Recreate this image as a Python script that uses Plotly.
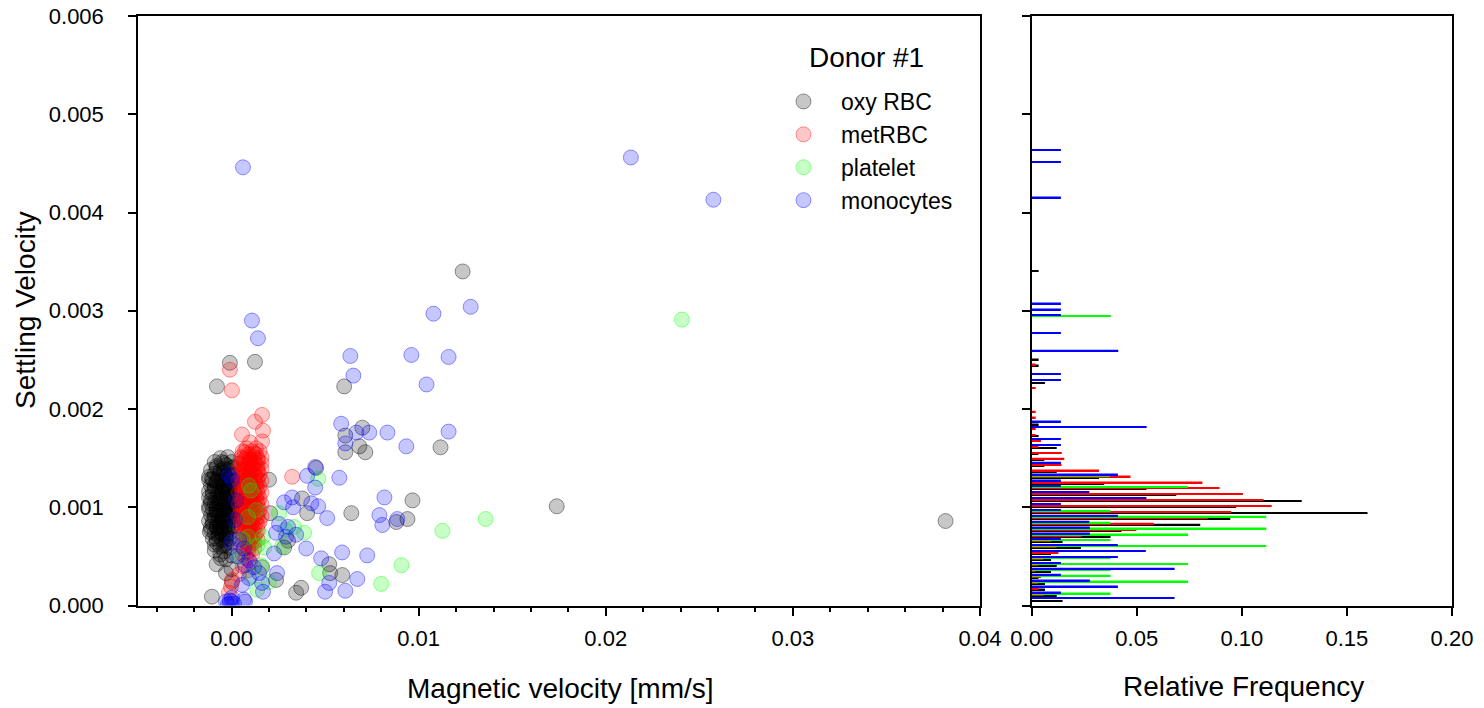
import plotly.graph_objects as go

FONT = "Liberation Sans, Arial, Helvetica, sans-serif"

# ---------------- scatter data (magnetic velocity [mm/s], settling velocity) -------------
oxy_rbc = [
    (0.03816, 0.00086), (0.01738, 0.00101), (0.01235, 0.00340), (0.01117, 0.00161),
    (0.00967, 0.00107), (0.00940, 0.00088), (0.00881, 0.00085), (0.00602, 0.00223),
    (0.00699, 0.00181), (0.00608, 0.00173), (0.00683, 0.00162), (0.00608, 0.00156),
    (0.00715, 0.00156), (0.00640, 0.00094), (0.00377, 0.00109), (0.00404, 0.00094),
    (0.00206, 0.00094), (0.00200, 0.00128), (0.00452, 0.00140), (0.00281, 0.00059),
    (0.00302, 0.00066), (0.00522, 0.00042), (0.00527, 0.00033), (0.00592, 0.00031),
    (0.00372, 0.00018), (0.00345, 0.00013), (0.00238, 0.00026), (0.00163, 0.00039),
    (-0.00009, 0.00247), (0.00125, 0.00248), (-0.00078, 0.00223), (-0.00105, 0.00009),
    (-0.00057, 0.00048), (-0.00030, 0.00033), (0.00002, 0.00024), (-0.00116, 0.00075),
    (-0.00078, 0.00080), (-0.00105, 0.00129), (-0.00051, 0.00146),
    (-0.0006, 0.00150), (-0.0002, 0.00151),
    (-0.0009, 0.00146), (-0.0004, 0.00145), (0.0000, 0.00146),
    (-0.0008, 0.00142), (-0.0003, 0.00143), (0.0001, 0.00141),
    (-0.0008, 0.00140), (-0.0004, 0.00139), (0.0000, 0.00140),
    (-0.0011, 0.00138), (-0.0006, 0.00137), (-0.0002, 0.00138),
    (-0.0009, 0.00134), (-0.0004, 0.00135), (0.0000, 0.00133),
    (-0.0006, 0.00134), (-0.0002, 0.00133),
    (-0.0012, 0.00131), (-0.0007, 0.00130), (-0.0003, 0.00131),
    (-0.0010, 0.00128), (-0.0005, 0.00127), (-0.0001, 0.00128), (0.0002, 0.00127),
    (-0.0012, 0.00128), (-0.0008, 0.00127), (-0.0003, 0.00128),
    (-0.0008, 0.00125), (-0.0004, 0.00124), (0.0000, 0.00125),
    (-0.0011, 0.00122), (-0.0006, 0.00121), (-0.0002, 0.00122),
    (-0.0009, 0.00122), (-0.0004, 0.00121), (0.0000, 0.00122),
    (-0.0009, 0.00119), (-0.0005, 0.00118), (-0.0001, 0.00119), (0.0002, 0.00118),
    (-0.0012, 0.00116), (-0.0007, 0.00115), (-0.0003, 0.00116),
    (-0.0010, 0.00116), (-0.0005, 0.00115), (-0.0001, 0.00116),
    (-0.0010, 0.00113), (-0.0006, 0.00112), (-0.0002, 0.00113), (0.0001, 0.00112),
    (-0.0008, 0.00110), (-0.0004, 0.00109), (0.0000, 0.00110),
    (-0.0012, 0.00110), (-0.0006, 0.00109), (-0.0002, 0.00110),
    (-0.0011, 0.00107), (-0.0007, 0.00106), (-0.0003, 0.00107), (0.0001, 0.00106),
    (-0.0009, 0.00104), (-0.0005, 0.00103), (-0.0001, 0.00104),
    (-0.0011, 0.00104), (-0.0007, 0.00103), (-0.0003, 0.00104), (0.0001, 0.00103),
    (-0.0012, 0.00101), (-0.0008, 0.00100), (-0.0004, 0.00101), (0.0000, 0.00100),
    (-0.0010, 0.00098), (-0.0006, 0.00097), (-0.0002, 0.00098), (0.0002, 0.00097),
    (-0.0012, 0.00098), (-0.0008, 0.00097), (-0.0004, 0.00098), (0.0000, 0.00097),
    (-0.0008, 0.00095), (-0.0004, 0.00094), (0.0000, 0.00095),
    (-0.0011, 0.00092), (-0.0007, 0.00091), (-0.0003, 0.00092), (0.0001, 0.00091),
    (-0.0009, 0.00092), (-0.0005, 0.00091), (-0.0001, 0.00092),
    (-0.0009, 0.00089), (-0.0005, 0.00088), (-0.0001, 0.00089),
    (-0.0012, 0.00086), (-0.0007, 0.00085), (-0.0003, 0.00086),
    (-0.0010, 0.00086), (-0.0005, 0.00085), (-0.0001, 0.00086),
    (-0.0010, 0.00083), (-0.0006, 0.00082), (-0.0002, 0.00083), (0.0001, 0.00082),
    (-0.0008, 0.00080), (-0.0004, 0.00079), (0.0000, 0.00080),
    (-0.0011, 0.00080), (-0.0006, 0.00079), (-0.0002, 0.00080),
    (-0.0011, 0.00077), (-0.0006, 0.00076), (-0.0002, 0.00077),
    (-0.0009, 0.00074), (-0.0005, 0.00073), (-0.0001, 0.00074),
    (-0.0007, 0.00074), (-0.0003, 0.00073),
    (-0.0007, 0.00071), (-0.0003, 0.00070),
    (-0.0010, 0.00068), (-0.0005, 0.00067), (-0.0001, 0.00068),
    (-0.0008, 0.00068), (-0.0003, 0.00067),
    (-0.0008, 0.00064), (-0.0003, 0.00063),
    (-0.0009, 0.00062), (-0.0004, 0.00061),
    (-0.0006, 0.00060), (-0.0001, 0.00059),
    (-0.0009, 0.00056), (-0.0004, 0.00055),
    (-0.0006, 0.00052), (0.0000, 0.00051),
    (-0.0003, 0.00047), (-0.0008, 0.00042), (0.0000, 0.00037),
]

met_rbc = [
    (0.00002, 0.00219), (-0.00009, 0.00240), (0.00163, 0.00194), (0.00125, 0.00187),
    (0.00168, 0.00178), (0.00056, 0.00174), (0.00163, 0.00167), (0.00099, 0.00166),
    (0.00324, 0.00131), (0.00002, 0.00026), (-0.00003, 0.00019), (-0.00014, 0.00013),
    (0.0008, 0.00160), (0.0013, 0.00160),
    (0.0006, 0.00157), (0.0011, 0.00157), (0.0015, 0.00157),
    (0.0007, 0.00156), (0.0012, 0.00155),
    (0.0009, 0.00154), (0.0013, 0.00154),
    (0.0005, 0.00151), (0.0008, 0.00151), (0.0012, 0.00151), (0.0016, 0.00151),
    (0.0006, 0.00150), (0.0010, 0.00149), (0.0014, 0.00150),
    (0.0007, 0.00148), (0.0010, 0.00148), (0.0014, 0.00148),
    (0.0005, 0.00145), (0.0009, 0.00145), (0.0012, 0.00145), (0.0016, 0.00145),
    (0.0005, 0.00144), (0.0009, 0.00143), (0.0013, 0.00144),
    (0.0007, 0.00142), (0.0011, 0.00142), (0.0014, 0.00142),
    (0.0004, 0.00139), (0.0008, 0.00139), (0.0012, 0.00139), (0.0016, 0.00139),
    (0.0006, 0.00138), (0.0010, 0.00137), (0.0014, 0.00138),
    (0.0006, 0.00136), (0.0010, 0.00136), (0.0014, 0.00136),
    (0.0005, 0.00133), (0.0008, 0.00133), (0.0012, 0.00133), (0.0015, 0.00133),
    (0.0006, 0.00132), (0.0009, 0.00131), (0.0013, 0.00132),
    (0.0007, 0.00130), (0.0010, 0.00130), (0.0014, 0.00130),
    (0.0004, 0.00127), (0.0008, 0.00127), (0.0012, 0.00127), (0.0016, 0.00127),
    (0.0006, 0.00126), (0.0010, 0.00125), (0.0014, 0.00126),
    (0.0006, 0.00124), (0.0010, 0.00124), (0.0013, 0.00124),
    (0.0005, 0.00121), (0.0008, 0.00121), (0.0011, 0.00121), (0.0015, 0.00121),
    (0.0006, 0.00120), (0.0009, 0.00119), (0.0013, 0.00120),
    (0.0007, 0.00118), (0.0010, 0.00118), (0.0014, 0.00118),
    (0.0004, 0.00115), (0.0008, 0.00115), (0.0012, 0.00115), (0.0016, 0.00115),
    (0.0006, 0.00114), (0.0010, 0.00113), (0.0014, 0.00114),
    (0.0006, 0.00112), (0.0010, 0.00112), (0.0013, 0.00112),
    (0.0005, 0.00109), (0.0008, 0.00109), (0.0011, 0.00109), (0.0015, 0.00109),
    (0.0006, 0.00108), (0.0009, 0.00107), (0.0013, 0.00108),
    (0.0007, 0.00106), (0.0010, 0.00106), (0.0014, 0.00106),
    (0.0004, 0.00103), (0.0008, 0.00103), (0.0012, 0.00103), (0.0016, 0.00103),
    (0.0006, 0.00102), (0.0010, 0.00101), (0.0014, 0.00102),
    (0.0006, 0.00100), (0.0009, 0.00100), (0.0013, 0.00100),
    (0.0005, 0.00097), (0.0008, 0.00097), (0.0011, 0.00097), (0.0015, 0.00097),
    (0.0006, 0.00096), (0.0009, 0.00095), (0.0013, 0.00096),
    (0.0007, 0.00094), (0.0010, 0.00094), (0.0014, 0.00094),
    (0.0004, 0.00091), (0.0008, 0.00091), (0.0012, 0.00091), (0.0016, 0.00091),
    (0.0006, 0.00090), (0.0010, 0.00089), (0.0014, 0.00090),
    (0.0006, 0.00088), (0.0009, 0.00088), (0.0013, 0.00088),
    (0.0005, 0.00085), (0.0008, 0.00085), (0.0011, 0.00085), (0.0015, 0.00085),
    (0.0006, 0.00084), (0.0009, 0.00083), (0.0013, 0.00084),
    (0.0007, 0.00082), (0.0010, 0.00082), (0.0014, 0.00082),
    (0.0005, 0.00079), (0.0009, 0.00079), (0.0012, 0.00079),
    (0.0008, 0.00078), (0.0011, 0.00077),
    (0.0007, 0.00076), (0.0010, 0.00076), (0.0014, 0.00076),
    (0.0006, 0.00073), (0.0009, 0.00073), (0.0013, 0.00073),
    (0.0007, 0.00072), (0.0012, 0.00071),
    (0.0008, 0.00070), (0.0011, 0.00070),
    (0.0006, 0.00067), (0.0010, 0.00067), (0.0014, 0.00067),
    (0.0008, 0.00066), (0.0011, 0.00065),
    (0.0008, 0.00064), (0.0012, 0.00064),
    (0.0005, 0.00061), (0.0010, 0.00061),
    (0.0009, 0.00060),
    (0.0007, 0.00058), (0.0012, 0.00058),
    (0.0009, 0.00055), (0.0008, 0.00054), (0.0006, 0.00052), (0.0011, 0.00052),
    (0.0008, 0.00048), (0.0010, 0.00044), (0.0006, 0.00040),
    (0.0009, 0.00036), (0.0004, 0.00032),
]

platelet = [
    (0.02407, 0.00291), (0.01358, 0.00088), (0.01127, 0.00076), (0.00908, 0.00041),
    (0.00800, 0.00022), (0.00463, 0.00129), (0.00388, 0.00074), (0.00254, 0.00094),
    (0.00334, 0.00080), (0.00468, 0.00033), (0.00168, 0.00070), (0.00104, 0.00117),
    (0.00088, 0.00090), (0.00088, 0.00070), (0.00174, 0.00059), (0.00137, 0.00016),
    (0.00200, 0.00024), (0.00104, 0.00030), (0.00158, 0.00041), (0.00040, 0.00049),
    (0.00270, 0.00060), (0.00137, 0.00061), (0.00061, 0.00067), (0.00287, 0.00077),
    (0.00131, 0.00097), (0.00093, 0.00122),
]

monocytes = [
    (0.02134, 0.00456), (0.02575, 0.00413), (0.00061, 0.00446), (0.01278, 0.00304),
    (0.01079, 0.00297), (0.00109, 0.00290), (0.00141, 0.00272), (0.00635, 0.00254),
    (0.00961, 0.00255), (0.01160, 0.00253), (0.00651, 0.00234), (0.01042, 0.00225),
    (0.00586, 0.00185), (0.00667, 0.00176), (0.00736, 0.00176), (0.00833, 0.00176),
    (0.01160, 0.00177), (0.00934, 0.00162), (0.00608, 0.00165), (0.00447, 0.00141),
    (0.00404, 0.00132), (0.00576, 0.00130), (0.00447, 0.00120), (0.00281, 0.00105),
    (0.00324, 0.00110), (0.00329, 0.00100), (0.00426, 0.00104), (0.00463, 0.00101),
    (0.00511, 0.00089), (0.00817, 0.00110), (0.00790, 0.00092), (0.00806, 0.00082),
    (0.00886, 0.00088), (0.00254, 0.00083), (0.00302, 0.00080), (0.00238, 0.00074),
    (0.00291, 0.00070), (0.00345, 0.00072), (0.00399, 0.00058), (0.00227, 0.00053),
    (0.00591, 0.00054), (0.00725, 0.00051), (0.00479, 0.00048), (0.00243, 0.00033),
    (0.00672, 0.00027), (0.00522, 0.00023), (0.00500, 0.00014), (0.00608, 0.00015),
    (0.00168, 0.00014), (0.00163, 0.00023), (0.00072, 0.00004),
    (-0.00014, 0.00133), (0.00002, 0.00128), (0.00024, 0.00107), (0.00018, 0.00087),
    (-0.00003, 0.00064), (0.00040, 0.00067), (0.00066, 0.00058), (0.00029, 0.00050),
    (0.00093, 0.00046), (0.00072, 0.00041), (0.00120, 0.00039), (0.00147, 0.00033),
    (0.00093, 0.00028), (0.00056, 0.00021), (0.00002, 0.00008), (0.00066, 0.00006),
    (-0.00030, 0.00004), (-0.00009, 0.00002), (-0.00009, 0.00005), (0.00002, 0.00004),
    (-0.00019, 0.00001), (0.00013, 0.00002),
]

# ---------------- histogram data (bin centre of settling velocity, relative frequency) ----
bin_center = [
    0.00006, 0.00012, 0.00018, 0.00024, 0.00030, 0.00036, 0.00042, 0.00048, 0.00054, 0.00060,
    0.00066, 0.00072, 0.00078, 0.00084, 0.00090, 0.00096, 0.00102, 0.00108, 0.00114, 0.00120,
    0.00126, 0.00132, 0.00138, 0.00144, 0.00150, 0.00156, 0.00162, 0.00168, 0.00174, 0.00180,
    0.00186, 0.00192, 0.00198, 0.00222, 0.00228, 0.00234, 0.00246, 0.00252, 0.00258, 0.00276,
    0.00294, 0.00300, 0.00306, 0.00342, 0.00414, 0.00450, 0.00462,
]
freq_oxy = [
    0.0147, 0.0119, 0.0063, 0.0063, 0.0032, 0.0092, 0.0119, 0.0092, 0.0092, 0.0234,
    0.0147, 0.0375, 0.0427, 0.0802, 0.0945, 0.1598, 0.0973, 0.1285, 0.0688, 0.0546,
    0.0345, 0.0320, 0.0119, 0.0060, 0.0060, 0.0032, 0.0119, 0.0, 0.0033, 0.0,
    0.0033, 0.0, 0.0, 0.0, 0.0063, 0.0, 0.0033, 0.0033, 0.0, 0.0,
    0.0, 0.0, 0.0, 0.0033, 0.0, 0.0, 0.0,
]
freq_met = [
    0.0, 0.0060, 0.0032, 0.0032, 0.0044, 0.0016, 0.0032, 0.0055, 0.0127, 0.0119,
    0.0095, 0.0237, 0.0498, 0.0581, 0.0839, 0.0949, 0.1142, 0.1103, 0.1005, 0.0894,
    0.0812, 0.0470, 0.0320, 0.0142, 0.0155, 0.0143, 0.0032, 0.0044, 0.0019, 0.0019,
    0.0, 0.0019, 0.0019, 0.0019, 0.0, 0.0, 0.0019, 0.0, 0.0, 0.0,
    0.0, 0.0, 0.0, 0.0, 0.0, 0.0, 0.0,
]
freq_plt = [
    0.0, 0.0375, 0.0, 0.0744, 0.0375, 0.0375, 0.0744, 0.0375, 0.0, 0.1116,
    0.0375, 0.0744, 0.1116, 0.0375, 0.1116, 0.0375, 0.0, 0.0, 0.0, 0.0744,
    0.0, 0.0372, 0.0, 0.0, 0.0, 0.0, 0.0, 0.0, 0.0, 0.0,
    0.0, 0.0, 0.0, 0.0, 0.0, 0.0, 0.0, 0.0, 0.0, 0.0,
    0.0376, 0.0, 0.0, 0.0, 0.0, 0.0, 0.0,
]
freq_mono = [
    0.0680, 0.0139, 0.0410, 0.0277, 0.0139, 0.0680, 0.0139, 0.0410, 0.0543, 0.0410,
    0.0139, 0.0277, 0.0277, 0.0274, 0.0411, 0.0139, 0.0139, 0.0546, 0.0274, 0.0139,
    0.0139, 0.0410, 0.0, 0.0139, 0.0, 0.0, 0.0139, 0.0139, 0.0, 0.0547,
    0.0139, 0.0, 0.0, 0.0, 0.0139, 0.0139, 0.0, 0.0, 0.0412, 0.0139,
    0.0139, 0.0139, 0.0139, 0.0, 0.0139, 0.0139, 0.0139,
]

series_names = ["oxy RBC", "metRBC", "platelet", "monocytes"]
x_ticks = [0.0, 0.01, 0.02, 0.03, 0.04]
y_ticks = [0.000, 0.001, 0.002, 0.003, 0.004, 0.005, 0.006]
f_ticks = [0.00, 0.05, 0.10, 0.15, 0.20]

# ---------------- figure ----------------
W, H = 1484, 708
colors = [(0, 0, 0), (255, 0, 0), (0, 255, 0), (0, 0, 255)]
fig = go.Figure()

for name, pts, c in zip(series_names, [oxy_rbc, met_rbc, platelet, monocytes], colors):
    fig.add_trace(go.Scatter(
        x=[p[0] for p in pts], y=[p[1] for p in pts], mode="markers", name=name,
        marker=dict(size=15, color="rgba(%d,%d,%d,0.22)" % c,
                    line=dict(color="rgba(%d,%d,%d,0.40)" % c, width=1)),
        xaxis="x", yaxis="y", hoverinfo="skip"))

px_per_y = (605.5 - 16) / 0.006
bar_w = 1.6 / px_per_y
step = 1.0 / px_per_y
for vals, c, k in zip([freq_oxy, freq_met, freq_plt, freq_mono], colors, [-1.5, -0.5, 0.5, 1.5]):
    fig.add_trace(go.Bar(
        x=vals, y=bin_center, orientation="h", width=bar_w,
        offset=k * step - bar_w / 2,
        marker=dict(color="rgb(%d,%d,%d)" % c, line=dict(width=0)),
        xaxis="x2", yaxis="y2", showlegend=False, hoverinfo="skip"))

y_bot = 1 - 605.5 / H
y_top = 1 - 16 / H
axis_common = dict(showline=True, linecolor="black", linewidth=1.5, mirror=True,
                   ticks="outside", tickcolor="black", tickwidth=1.5,
                   showgrid=False, zeroline=False, automargin=False,
                   tickfont=dict(family=FONT, size=22, color="black"))

fig.update_layout(
    template="none",
    width=W, height=H, margin=dict(l=0, r=0, t=0, b=0, pad=0, autoexpand=False),
    paper_bgcolor="white", plot_bgcolor="white",
    barmode="overlay", showlegend=True,
    font=dict(family=FONT, color="black"),
    xaxis=dict(domain=[138 / W, 980 / W], range=[-0.005, 0.04],
               tickvals=x_ticks, ticktext=["%.2f" % v for v in x_ticks],
               ticklen=9, ticklabelstandoff=3,
               minor=dict(dtick=0.002, tick0=0, ticks="outside", ticklen=5,
                          tickwidth=1.5, tickcolor="black", showgrid=False),
               anchor="y", **axis_common),
    yaxis=dict(domain=[y_bot, y_top], range=[0, 0.006],
               tickvals=y_ticks, ticktext=["%.3f" % v for v in y_ticks],
               ticklen=8, ticklabelstandoff=20, anchor="x", **axis_common),
    xaxis2=dict(domain=[1031.7 / W, 1452 / W], range=[0, 0.2],
                tickvals=f_ticks, ticktext=["%.2f" % v for v in f_ticks],
                ticklen=9, ticklabelstandoff=3, anchor="y2", **axis_common),
    yaxis2=dict(domain=[y_bot, y_top], range=[0, 0.006], tickvals=y_ticks,
                showticklabels=False, ticklen=8, anchor="x2", **axis_common),
    legend=dict(x=766 / W, y=1 - 80 / H, xanchor="left", yanchor="top",
                font=dict(family=FONT, size=23, color="black"),
                itemwidth=65, bgcolor="rgba(0,0,0,0)", borderwidth=0),
    annotations=[
        dict(text="Magnetic velocity [mm/s]", x=560 / W, y=1 - 688 / H, xref="paper",
             yref="paper", showarrow=False, font=dict(family=FONT, size=28),
             xanchor="center", yanchor="middle"),
        dict(text="Relative Frequency", x=1243 / W, y=1 - 686 / H, xref="paper",
             yref="paper", showarrow=False, font=dict(family=FONT, size=28),
             xanchor="center", yanchor="middle"),
        dict(text="Settling Velocity", x=25 / W, y=1 - 310 / H, xref="paper",
             yref="paper", showarrow=False, textangle=-90,
             font=dict(family=FONT, size=28), xanchor="center", yanchor="middle"),
        dict(text="Donor #1", x=866 / W, y=1 - 57 / H, xref="paper", yref="paper",
             showarrow=False, font=dict(family=FONT, size=28),
             xanchor="center", yanchor="middle"),
    ],
)

fig.write_html("out.html",
               config={"displayModeBar": False},
               post_script="document.body.style.margin='0px';"
                           "document.body.style.padding='0px';")
